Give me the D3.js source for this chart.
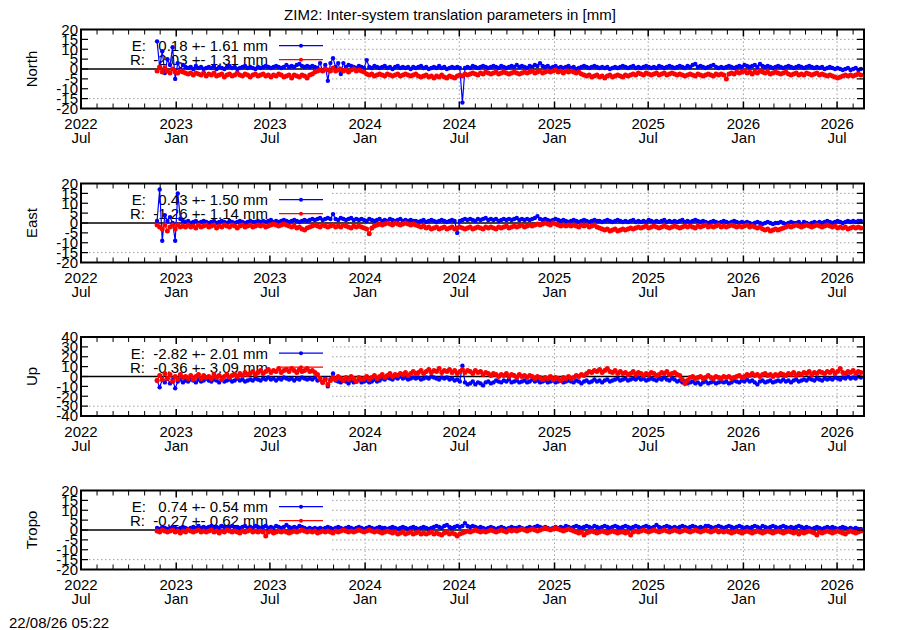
<!DOCTYPE html>
<html>
<head>
<meta charset="utf-8">
<script src="https://cdn.jsdelivr.net/npm/d3@7"></script>
<style>
html, body { margin: 0; padding: 0; background: #fff; }
svg { display: block; font-family: "Liberation Sans", Arial, sans-serif; }
</style>
</head>
<body>
<svg id="chart" width="900" height="630"></svg>
<script>
// Config / data: one value every STEP_DAYS days, starting at START
const START = new Date(Date.UTC(2022, 10, 25));
const STEP_DAYS = 5;
const X_DOMAIN = [new Date(Date.UTC(2022, 6, 1)), new Date(Date.UTC(2026, 7, 22))];
const TITLE = 'ZIM2: Inter-system translation parameters in [mm]';
const STAMP = '22/08/26 05:22';

const northE = [
  14, 1, 9, -2, 5, 2, 11, -5, 3, 0, 2, 1, 0.5, 1, 0, 1.5, 0.5, 1, 0, 0.5,
  1, 0.5, 1.5, 0, 1, 0.5, 0, 1, 1.5, 0.5, 1, 0, 0.5, 1, 1.5, 0.5, 1, 0.5, 0, 1,
  0.5, 1, 1.5, 1, 0.5, 1, 1.5, 1, 0.5, 1, 2, 1, 1.5, 1, 2, 2.5, 1.5, 1, 1.5, 1,
  1.5, 1, 0.5, 3, -1, 2, -6, 3, 5.5, 1, 3, -2.5, 3, 1, 2, 1.5, 1, 0.5, 1.5, 1,
  0.5, 4.5, 1, 0.5, 1.5, 1, 0.5, 1, 1.5, 0.5, 1, 0, 1, 1.5, 0.5, 1, 0.5, 1, 0, 1,
  0.5, 1, 1.5, 0.5, 1, 0, 0.5, 1, 0.5, 1.5, 0.5, 1, 0, 0.5, 1, 0.5, 1, 0.5, -17, 0.5,
  1, 0.5, 1.5, 1, 0.5, 1, 1.5, 1, 0.5, 1, 1.5, 1, 0.5, 1.5, 1, 0.5, 1, 1.5, 1, 2,
  1, 1.5, 1, 0.5, 1.5, 1, 2, 1.5, 3, 1.5, 1, 1.5, 0.5, 1, 1.5, 0.5, 1, 0.5, 1, 1.5,
  0.5, 1, 0, 0.5, 1, 1.5, 1, 0.5, 1, 1.5, 1, 0.5, 1, 0.5, 1, 0, 0.5, 1, 0.5, 1,
  1.5, 1, 0.5, 1, 1.5, 0.5, 1, 0.5, 1, 1.5, 1, 0.5, 1, 0.5, 1.5, 1, 0.5, 1, 1.5, 1,
  0.5, 1, 1.5, 1, 0.5, 1.5, 1, 2, 2.5, 1, 1.5, 1, 0.5, 1, 1.5, 2, 1, 0.5, 1, 0.5,
  1, 1.5, 1, 0.5, 1, 1.5, 1, 2, 1.5, 1, 1.5, 2, 1, 2.5, 1.5, 1, 1.5, 1, 0.5, 1,
  1.5, 1, 0.5, 1, 1.5, 1, 0.5, 1, 1.5, 1, 0.5, 1, 1.5, 1, 0.5, 1, 0.5, 1, 0, 0.5,
  1, 0.5, 0, 0.5, 0, -0.5, 0, 0.5, -0.5, 0, 0.5, -0.5, 0
];
const northR = [
  -1, 1, -1.5, 0.5, -1, -2, 0, -1.5, -2, -1, -1.5, -2, -2.5, -2, -3, -2, -2.5, -3, -2, -3.5,
  -2.5, -3, -2, -3.5, -3, -2.5, -4, -3, -2.5, -3.5, -3, -2, -3, -3.5, -2.5, -3, -4, -3, -2.5, -3.5,
  -3, -2.5, -3.5, -3, -4, -3, -3.5, -2.5, -3, -4, -3.5, -3, -4.5, -3, -3.5, -4, -3, -3.5, -4.5, -3,
  -2.5, -1.5, -1, -0.5, -1, 0, -0.5, -1, 0.5, -1, -0.5, 0, -1, -0.5, -1.5, -0.5, 0, -1, -0.5, -1,
  -1.5, -2.5, -3, -2.5, -3.5, -3, -2.5, -3, -3.5, -2.5, -3, -3.5, -3, -2.5, -3.5, -3, -2.5, -3, -3.5, -3,
  -2.5, -3.5, -4, -3.5, -3, -4, -3.5, -4.5, -3.5, -4, -3, -4, -4.5, -3.5, -4, -4.5, -3.5, -3, -3.5, -2.5,
  -3, -2.5, -2, -2.5, -3, -2, -2.5, -1.5, -2, -2.5, -2, -1.5, -2.5, -2, -1.5, -2, -2.5, -2, -1.5, -2,
  -2.5, -2, -1.5, -2, -1.5, -1, -2, -1.5, -1, -2, -1.5, -1, -1.5, -1, -0.5, -1.5, -1, -2, -1, -1.5,
  -1, -1.5, -2, -1.5, -2.5, -3, -3.5, -3, -4, -3.5, -3, -4, -3.5, -4.5, -3.5, -3, -4, -3.5, -3, -3.5,
  -4, -3, -3.5, -3, -2.5, -3, -2, -2.5, -3, -2, -2.5, -3, -2.5, -2, -3, -2.5, -2, -3, -2.5, -2,
  -2.5, -3, -2.5, -3, -3.5, -3, -2.5, -3, -3.5, -2.5, -3, -3.5, -3, -2.5, -3, -3.5, -2.5, -3, -2.5, -3,
  -5, -2.5, -2, -2.5, -1.5, -2, -1.5, -1, -2, -1.5, -2.5, -1.5, -2, -1, -1.5, -2, -1.5, -2.5, -2, -1.5,
  -2, -2.5, -2, -1.5, -2.5, -3, -2.5, -2, -3, -2.5, -3, -2, -2.5, -3, -2.5, -2, -3, -2.5, -3, -3.5,
  -3, -3.5, -4, -4.5, -4, -3.5, -3, -3.5, -3, -3.5, -3, -2.5, -3
];
const eastE = [
  1, 17, -9, 4, 1, 3, 0, -9, 15, 2, 1, 0.5, 1, 0, 0.5, 1, 0, 0.5, 1, 0.5,
  0, 0.5, 1, 0, 0.5, 1, 0.5, 0, 1, 0.5, 0, 0.5, 1, 0.5, 0, 0.5, 1, 0.5, 0.5, 1,
  0.5, 1, 0.5, 1, 1.5, 0.5, 1, 0.5, 1, 1.5, 1, 0.5, 1, 1.5, 1, 0.5, 1, 1.5, 1, 1.5,
  2, 1.5, 2, 2.5, 1.5, 2, 2.5, 2, 4.5, 2, 1.5, 2.5, 2, 1.5, 2, 2.5, 1.5, 2, 1.5, 2,
  1.5, 1, 2, 1.5, 1, 1.5, 2, 1, 1.5, 1, 2, 1.5, 1, 1.5, 2, 1, 1.5, 1, 1.5, 1,
  1, 0.5, 1, 1.5, 0.5, 1, 1.5, 1, 0.5, 1, 1.5, 1, 0.5, 1, 1.5, 1, -5, 1, 1.5, 2,
  1.5, 2, 1.5, 1, 2, 1.5, 2, 2.5, 1.5, 2, 1.5, 2, 1, 1.5, 2, 1.5, 2, 1.5, 2, 2.5,
  1.5, 2, 1.5, 2, 1.5, 2, 2.5, 3.5, 2, 1.5, 2, 1.5, 1, 1.5, 2, 1.5, 1, 1.5, 1, 0.5,
  1, 1.5, 1, 0.5, 1, 1.5, 1, 0.5, 1, 1.5, 1, 1, 0.5, 1, 1.5, 1, 0.5, 1, 1.5, 1,
  0.5, 1, 0.5, 1, 1.5, 0.5, 1, 0.5, 1, 0.5, 1.5, 1, 0.5, 1, 0.5, 1, 1.5, 0.5, 1, 0.5,
  1, 0.5, 1, 1.5, 0.5, 1, 0.5, 1, 1.5, 1, 0.5, 1, 0.5, 0, 0.5, 1, 0.5, 0, 0.5, 1,
  0.5, 0, 0.5, 1, 0.5, 0, 0.5, 0, 0.5, 0, -0.5, 0, 0.5, 0, -0.5, 0, 0.5, 0, -0.5, 0,
  0, 0.5, 0, -0.5, 0, 0.5, 0, 0, 0.5, -1.5, 0.5, 0, -0.5, 0, 0.5, 0, 0.5, 0, 0.5, 1,
  0.5, 0, 0.5, 1, 0.5, 0, 0.5, 1, 0.5, 1, 0.5, 1, 1
];
const eastR = [
  -1, -2, -3, -1, -4, -2, -1, -3, -1, -2, -1.5, -2, -1, -2, -1.5, -2.5, -1, -2, -1.5, -1,
  -2, -1.5, -1, -2.5, -1.5, -2, -1, -1.5, -2, -1, -1.5, -2.5, -1.5, -1, -2, -1.5, -1, -2, -1.5, -1,
  -1.5, -1, -2, -1.5, -1, -0.5, -1, -1.5, -1, -0.5, -1, -1.5, -2, -1.5, -2.5, -2, -3, -3.5, -2.5, -2,
  -1.5, -1, -1.5, -2, -1, -1.5, -2, -1.5, -1, -2, -1.5, -2, -1, -1.5, -2, -2.5, -1.5, -2, -1.5, -2,
  -2.5, -3, -5.5, -2.5, -1.5, -1, -0.5, -1, -0.5, 0, -0.5, -1, 0, -0.5, -1, -0.5, 0, -0.5, -1, -0.5,
  -1, -1.5, -2, -1.5, -2.5, -2, -3, -2.5, -2, -3, -2.5, -2, -3, -2.5, -2, -3, -2.5, -2, -2.5, -3,
  -2.5, -2, -3, -2.5, -2, -2.5, -3, -2, -2.5, -2, -2.5, -3, -2, -2.5, -2, -1.5, -2.5, -2, -1.5, -2,
  -1.5, -1, -2, -1.5, -1, -1.5, -1, -0.5, -1, -0.5, 0, -0.5, -1, 0, -0.5, -1, -1.5, -1, -1.5, -1,
  -1.5, -1, -1.5, -2, -1, -1.5, -1, -2, -1.5, -1, -2, -2.5, -3, -3.5, -3, -4, -3.5, -3, -4, -3.5,
  -3, -3.5, -3, -2.5, -3, -2.5, -2, -2.5, -2, -1.5, -2.5, -2, -1.5, -2, -2.5, -2, -1.5, -2, -2.5, -2,
  -1.5, -2, -2.5, -2, -1.5, -2, -1.5, -2, -2.5, -1.5, -2, -1.5, -1, -2, -1.5, -2, -1.5, -1, -2, -1.5,
  -2, -1.5, -1, -1.5, -2, -1.5, -2, -1.5, -1, -2, -1.5, -2, -2.5, -2, -3, -3.5, -3, -4, -3.5, -3,
  -3.5, -3, -2.5, -2, -1.5, -2, -1.5, -1, -1.5, -2, -1.5, -1, -1.5, -2, -1.5, -1, -1.5, -2, -1.5, -1,
  -1.5, -2, -1.5, -2.5, -2, -2.5, -2, -3, -2.5, -2, -2.5, -2, -2.5
];
const upE = [
  -4, -11, -3, -6, -2, -7, -3, -12, -5, -3, -6, -4, -5, -3, -4, -6, -3, -5, -4, -2,
  -4, -5, -3, -4, -6, -3, -5, -4, -3, -5, -4, -2, -4, -3, -5, -4, -3, -4, -2, -3,
  -4, -2, -3, -1, -3, -2, -4, -2, -3, -1, -2, -3, -2, -4, -2, -3, -1, -2, -3, -2,
  -3, -1, -4, -3, -6, -2, -10, -3, 3, -4, -5, -6, -4, -5, -7, -4, -6, -5, -3, -6,
  -5, -4, -6, -5, -3, -5, -4, -2, -3, -1, -2, -3, -1, -2, 0, -2, -1, -3, -2, -1,
  -2, -1, -3, -2, -1, -2, 0, -1, -2, -3, -1, -2, -1, -3, -2, -4, -3, -5, 11, -6,
  -8, -7, -5, -8, -6, -7, -9, -6, -5, -7, -6, -4, -5, -6, -4, -5, -3, -6, -5, -4,
  -6, -5, -4, -6, -5, -3, -5, -4, -6, -5, -4, -6, -5, -4, -6, -5, -4, -6, -5, -4,
  -5, -6, -4, -5, -7, -5, -4, -6, -5, -3, -5, -4, -6, -4, -3, -5, -4, -3, -2, -4,
  -3, -2, -4, -3, -2, -3, -1, -3, -2, -4, -3, -2, -3, -4, -2, -3, -1, -3, -4, -2,
  -3, -5, -4, -6, -5, -7, -6, -5, -7, -6, -8, -6, -5, -7, -6, -5, -7, -6, -5, -6,
  -5, -7, -6, -4, -5, -6, -4, -5, -3, -5, -4, -6, -8, -5, -4, -6, -5, -4, -6, -5,
  -4, -5, -3, -5, -4, -6, -4, -3, -5, -4, -3, -4, -2, -3, -4, -2, -3, -4, -2, -3,
  -2, -3, -1, -2, -3, -1, -2, 0, -2, -1, -2, 0, -1
];
const upR = [
  -4, 1, -3, 3, -2, 2, -5, 0, -3, 2, -1, 0, -2, 1, -3, 0, 2, -2, 1, -1,
  0, -2, 2, -1, 1, -3, 0, 2, -1, 1, 2, 0, 3, 1, 4, 2, 3, 5, 2, 4,
  6, 3, 5, 7, 4, 6, 5, 8, 4, 6, 7, 5, 8, 6, 4, 7, 5, 6, 8, 5,
  6, 4, 2, -2, -6, -3, -8, -4, -1, -3, 0, -2, -4, -1, -3, 0, -2, -5, -1, -3,
  -2, 0, -3, -1, 1, -2, 0, 2, -1, 1, 3, 0, 2, 1, 3, 2, 4, 1, 3, 5,
  3, 4, 6, 3, 5, 7, 4, 6, 5, 8, 4, 6, 5, 7, 4, 6, 3, 5, 7, 4,
  6, 5, 3, 6, 4, 5, 2, 4, 3, 1, 3, 2, 0, 2, 1, 3, 0, 2, 1, -1,
  2, 0, 1, -1, 1, 0, -2, 0, -1, -3, -1, -2, 0, -3, -1, -2, -4, -1, -2, 0,
  -2, -1, 1, 0, 2, 1, 3, 5, 4, 6, 5, 7, 4, 6, 8, 5, 4, 6, 3, 5,
  3, 4, 2, 3, 5, 2, 4, 3, 1, 3, 2, 4, 3, 1, 2, 4, 3, 5, 2, 3,
  4, 2, 1, -3, -7, -4, -1, 0, -2, -1, 0, -2, -1, 1, -1, -2, 0, -1, -2, 0,
  -1, 0, -2, -1, 0, 1, -1, 0, 2, 1, 3, 1, 2, 0, 2, 3, 1, 2, 0, 2,
  1, 3, 2, 1, 3, 2, 4, 1, 3, 2, 4, 3, 5, 2, 4, 3, 5, 4, 3, 5,
  4, 6, 3, 5, 8, 4, 3, 5, 4, 6, 3, 5, 4
];
const tropoE = [
  1, 0.5, 1.5, 1, 0.5, 1, 1.5, 1, 0.5, 1, 1.5, 1, 0.5, 1, 1.5, 1, 2, 1, 1.5, 1,
  1.5, 2, 1, 1.5, 1, 2, 1.5, 1, 1.5, 2, 1, 1.5, 1, 1.5, 2, 1, 1.5, 1, 2, 1.5,
  1, 1.5, 2, 1, 1.5, 1, 2, 1.5, 1, 1.5, 2.5, 1.5, 1, 1.5, 1, 2, 1.5, 1, 0.5, 1,
  0.5, 1, 0.5, 1, 0.5, 1, 1.5, 1, 0.5, 1, 1.5, 1, 0.5, 1, 1.5, 1, 0.5, 1, 1.5, 1,
  0.5, 1, 1.5, 1, 0.5, 1, 1.5, 1, 1, 0.5, 1, 1.5, 1, 0.5, 1, 1.5, 1, 0.5, 1, 1.5,
  1, 0.5, 1, 1.5, 1, 0.5, 1, 1.5, 2, 1.5, 1, 2, 2.5, 1.5, 1, 1.5, 2, 1.5, 2, 3.5,
  2, 1.5, 2, 1.5, 1, 1.5, 1, 0.5, 1, 1.5, 1, 0.5, 1, 1.5, 1, 0.5, 1, 1.5, 1, 1,
  1.5, 1, 0.5, 1, 1.5, 1, 1.5, 2, 1.5, 1, 1.5, 1, 0.5, 1, 1.5, 1, 1.5, 1, 2, 1.5,
  1, 1.5, 2, 1.5, 1, 1.5, 2, 1.5, 1, 2, 1.5, 1, 1.5, 2, 1.5, 1, 1.5, 2, 1.5, 1,
  1.5, 2, 1.5, 1, 1.5, 2, 1.5, 1, 1.5, 2, 1.5, 1, 1.5, 2.5, 1.5, 1, 1.5, 2, 1.5, 1,
  1.5, 1, 1.5, 2, 1.5, 1, 1.5, 2, 1.5, 1, 1.5, 1, 2, 2, 1.5, 1, 1.5, 2, 1.5, 1,
  1.5, 2, 1.5, 1, 1.5, 2, 1.5, 1, 1.5, 1, 1.5, 2, 1.5, 1, 2, 1.5, 1, 1.5, 2, 1.5,
  1, 1.5, 2, 1.5, 1, 1.5, 1, 1.5, 2, 1.5, 1, 1.5, 1, 0.5, 1, 1.5, 1, 0.5, 1, 1.5,
  1, 1.5, 1, 0.5, 1, 1.5, 1, 0.5, 1, 0.5, 1, 0.5, 0.5
];
const tropoR = [
  -0.5, -1, 0, -0.5, -1, -0.5, 0, -1, -0.5, -1.5, -0.5, -1, 0, -0.5, -1, -0.5, 0, -1, -0.5, -1,
  -0.5, 0, -1, -0.5, -1.5, -0.5, -1, 0, -0.5, -1, -0.5, -1, -1.5, -0.5, -1, -0.5, 0, -1, -0.5, -1,
  -0.5, -1, -3, -1, -0.5, -1.5, -1, -0.5, -1, -0.5, -1, -1.5, -1, -0.5, -1, -0.5, 0, -0.5, -1, -0.5,
  -1, -0.5, -1.5, -1, -0.5, -1, -0.5, -1, -1.5, -0.5, -1, -0.5, 0, -0.5, -1, -0.5, -1, -0.5, 0, -0.5,
  -1, -0.5, 0, -0.5, -1, -0.5, -1, -1.5, -1, -0.5, -1, -1.5, -1, -2, -1.5, -1, -2, -1.5, -1, -2,
  -1.5, -1, -2, -1.5, -2, -1.5, -1, -2, -1.5, -2, -2.5, -1.5, -1, -2, -1.5, -2, -3, -2, -1.5, -1,
  -0.5, -1, -0.5, 0, -0.5, -1, -0.5, -1, -0.5, 0, -0.5, -1, -0.5, 0, -0.5, -1, 0, -0.5, 0, -0.5,
  0, 0.5, 0, -0.5, 0, 0.5, 0, -0.5, 0, 0.5, 1, 0.5, 0, 0.5, 1, 0.5, 0, -0.5, 0, 0.5,
  0, -0.5, -1, -1.5, -1, -2.5, -1.5, -1, -0.5, -1, -1.5, -1, -0.5, -1, -1.5, -1, -0.5, -1, -1.5, -1,
  -1, -1.5, -1, -2.5, -1, -0.5, -1, -0.5, 0, -0.5, -1, -0.5, 0, -0.5, -1, -0.5, 0, -0.5, -1, -0.5,
  0, -0.5, -1, -0.5, 0, -0.5, -1, -0.5, 0, -0.5, -1, -0.5, 0, -0.5, -1, -0.5, 0, -1, -0.5, -1,
  -0.5, -1, -1.5, -1, -0.5, -1, -1.5, -1, -0.5, -1, -1.5, -1, -0.5, -1, -1.5, -1, -0.5, -1, -1.5, -1,
  -0.5, -1, -1.5, -1, -0.5, -1, -1.5, -1, -2, -1, -1.5, -1, -0.5, -1, -1.5, -2.5, -1, -1.5, -1, -0.5,
  -1, -1.5, -1, -0.5, -1, -1.5, -2, -1, -0.5, -1, -1.5, -1, -0.5
];

const panelNames = ['North', 'East', 'Up', 'Tropo'];
const panelLimits = [20, 20, 40, 20];
const panelSteps = [5, 5, 10, 5];
const eSeries = [northE, eastE, upE, tropoE];
const rSeries = [northR, eastR, upR, tropoR];
const eLabels = ['E:   0.18 +- 1.61 mm', 'E:   0.43 +- 1.50 mm', 'E:  -2.82 +- 2.01 mm', 'E:   0.74 +- 0.54 mm'];
const rLabels = ['R:  -2.03 +- 1.31 mm', 'R:  -1.26 +- 1.14 mm', 'R:  -0.36 +- 3.09 mm', 'R:  -0.27 +- 0.62 mm'];

// Layout
const width = 900, height = 630;
const left = 81, right = 864, ph = 79;
const panelTops = [29.5, 183.5, 337, 490.5];
const KEY_RIGHT = 332;
const BLUE = '#0000ff', RED = '#ff0000';
const FONT = 15;

const svg = d3.select('#chart').attr('viewBox', [0, 0, width, height]);

const dates = d3.range(northE.length).map(i => d3.utcDay.offset(START, i * STEP_DAYS));
const x = d3.scaleUtc().domain(X_DOMAIN).range([left, right]);
const majors = d3.utcMonth.every(6).range(X_DOMAIN[0], d3.utcDay.offset(X_DOMAIN[1], 1));
const minors = d3.utcMonth.range(X_DOMAIN[0], X_DOMAIN[1]);
const fmtYear = d3.utcFormat('%Y');
const fmtMonth = d3.utcFormat('%b');

svg.append('text')
    .attr('x', 450).attr('y', 20)
    .attr('text-anchor', 'middle')
    .style('font-size', FONT + 'px')
    .text(TITLE);

svg.append('text')
    .attr('x', 9).attr('y', 628)
    .style('font-size', FONT + 'px')
    .text(STAMP);

panelNames.forEach((name, k) => {
    const top = panelTops[k], bottom = top + ph;
    const lim = panelLimits[k], step = panelSteps[k];
    const y = d3.scaleLinear().domain([-lim, lim]).range([bottom, top]);
    const yTicks = d3.range(-lim, lim + step / 2, step);
    const g = svg.append('g');

    // grid (partly hidden by the key box)
    const grid = g.append('g').attr('stroke', '#a0a0a0').attr('stroke-width', 1).attr('stroke-dasharray', '1.5,2.5');
    grid.selectAll('line.h')
        .data(yTicks.filter(v => v !== -lim && v !== lim && v !== 0))
        .join('line')
        .attr('x1', v => v === -lim + step ? left : KEY_RIGHT)
        .attr('x2', right)
        .attr('y1', v => y(v)).attr('y2', v => y(v));
    grid.selectAll('line.v')
        .data(majors.filter(d => x(d) > KEY_RIGHT && x(d) < right - 1))
        .join('line')
        .attr('x1', d => x(d)).attr('x2', d => x(d))
        .attr('y1', top).attr('y2', bottom);

    // key text
    const key = g.append('g').style('font-size', FONT + 'px').attr('text-anchor', 'end');
    key.append('text').attr('x', 268).attr('y', top + 21.5).style('white-space', 'pre').text(eLabels[k]);
    key.append('text').attr('x', 268).attr('y', top + 35.5).style('white-space', 'pre').text(rLabels[k]);
    [[BLUE, top + 16.2], [RED, top + 30.2]].forEach(([c, ky]) => {
        key.append('line').attr('x1', 279).attr('x2', 323).attr('y1', ky).attr('y2', ky)
            .attr('stroke', c).attr('stroke-width', 1.2);
        key.append('circle').attr('cx', 301).attr('cy', ky).attr('r', 2).attr('fill', c);
    });

    // zero line
    g.append('line')
        .attr('x1', left).attr('x2', right)
        .attr('y1', y(0)).attr('y2', y(0))
        .attr('stroke', '#000').attr('stroke-width', 1.5);

    // series
    const clipId = 'clip' + k;
    svg.append('clipPath').attr('id', clipId)
        .append('rect').attr('x', left).attr('y', top).attr('width', right - left).attr('height', ph);
    const plot = g.append('g').attr('clip-path', `url(#${clipId})`);
    const line = d3.line().x((d, i) => x(dates[i])).y(d => y(d));
    [[eSeries[k], BLUE, 2.2], [rSeries[k], RED, 2.5]].forEach(([vals, c, r]) => {
        plot.append('path').datum(vals)
            .attr('d', line)
            .attr('fill', 'none').attr('stroke', c).attr('stroke-width', 1.2);
        plot.append('g').selectAll('circle')
            .data(vals)
            .join('circle')
            .attr('cx', (d, i) => x(dates[i]))
            .attr('cy', d => y(d))
            .attr('r', r)
            .attr('fill', c);
    });

    // ticks
    const ticks = g.append('g').attr('stroke', '#000');
    minors.forEach(d => {
        const isMajor = d.getUTCMonth() % 6 === 0;
        const len = isMajor ? 7 : 5;
        const sw = isMajor ? 1.5 : 1;
        ticks.append('line').attr('x1', x(d)).attr('x2', x(d)).attr('y1', top).attr('y2', top + len).attr('stroke-width', sw);
        ticks.append('line').attr('x1', x(d)).attr('x2', x(d)).attr('y1', bottom).attr('y2', bottom - len).attr('stroke-width', sw);
    });
    yTicks.filter(v => v !== -lim && v !== lim).forEach(v => {
        ticks.append('line').attr('x1', left).attr('x2', left + 7).attr('y1', y(v)).attr('y2', y(v)).attr('stroke-width', 1.2);
        ticks.append('line').attr('x1', right).attr('x2', right - 7).attr('y1', y(v)).attr('y2', y(v)).attr('stroke-width', 1.2);
    });

    // frame
    g.append('rect')
        .attr('x', left).attr('y', top).attr('width', right - left).attr('height', ph)
        .attr('fill', 'none').attr('stroke', '#000').attr('stroke-width', 2);

    // tick labels
    const lab = g.append('g').style('font-size', FONT + 'px');
    lab.selectAll('text.y')
        .data(yTicks)
        .join('text')
        .attr('x', 78).attr('y', v => y(v) + 5.3)
        .attr('text-anchor', 'end')
        .text(v => v);
    majors.forEach(d => {
        lab.append('text').attr('x', x(d)).attr('y', bottom + 20.6).attr('text-anchor', 'middle').text(fmtYear(d));
        lab.append('text').attr('x', x(d)).attr('y', bottom + 34.5).attr('text-anchor', 'middle').text(fmtMonth(d));
    });

    // axis name
    g.append('text')
        .attr('transform', `translate(37, ${top + ph / 2}) rotate(-90)`)
        .attr('text-anchor', 'middle')
        .style('font-size', FONT + 'px')
        .text(name);
});
</script>
</body>
</html>
